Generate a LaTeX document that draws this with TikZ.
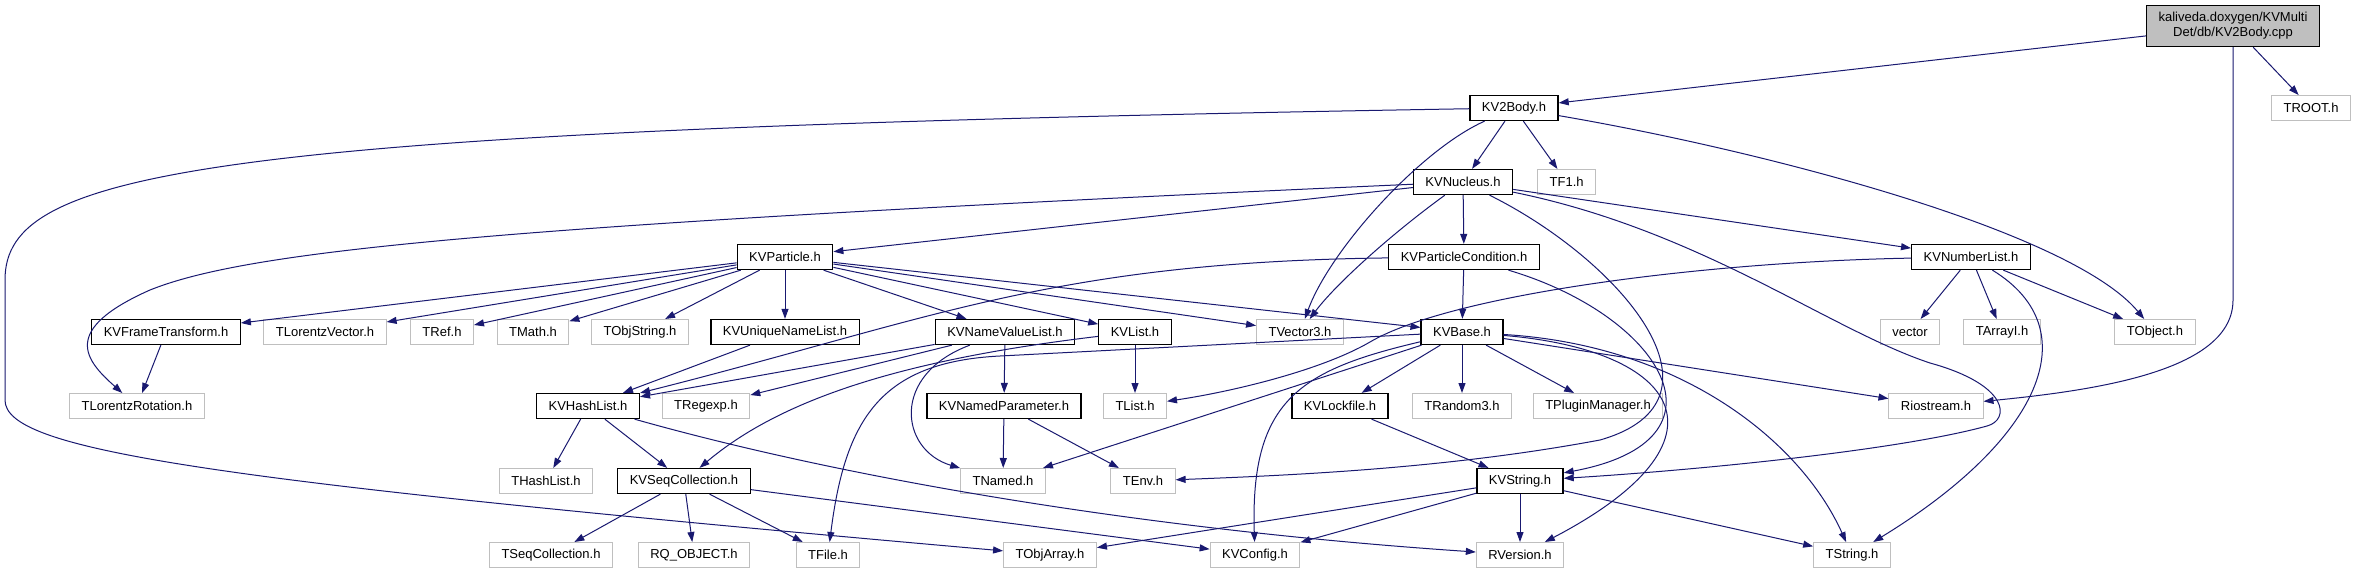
\documentclass[tikz,border=0pt]{standalone}
\usepackage{fontspec}
\setmainfont{Liberation Sans}
\usetikzlibrary{positioning, arrows.meta}

\definecolor{edgeblue}{HTML}{191970}
\definecolor{boxgray}{HTML}{BFBFBF}
\definecolor{srcgray}{HTML}{BFBFBF}

\begin{document}
\begin{tikzpicture}[
        x=1pt, y=1pt,
        box/.style={rectangle, draw, minimum height=25pt, inner xsep=12pt, inner ysep=2pt, font=\fontsize{13}{15}\selectfont},
        kvbox/.style={box, line width=1.3pt},
        extbox/.style={box, draw=boxgray, line width=1pt},
        srcbox/.style={box, fill=srcgray, line width=1.3pt, minimum height=41pt, align=center},
        arrow/.style={-{Stealth[length=10pt, width=7pt, inset=0pt]}, draw=edgeblue, line width=1pt}
    ]
        \fill[white] (0,0) rectangle (2355,-575);
        \useasboundingbox (0,0) rectangle (2355,-575);

        % Source file
        \node[srcbox] (cpp) at (2233,-26) {kaliveda.doxygen/KVMulti\\Det/db/KV2Body.cpp};

        % Direct includes
        \node[kvbox] (kvtwobody) at (1514,-108) {KV2Body.h};
        \node[extbox] (troot) at (2311,-108) {TROOT.h};

        \node[kvbox] (nucleus) at (1463,-182) {KVNucleus.h};
        \node[extbox, right=24pt of nucleus] (tfone) {TF1.h};

        \node[kvbox] (particle) at (785,-257) {KVParticle.h};
        \node[kvbox] (pcond) at (1464,-257) {KVParticleCondition.h};
        \node[kvbox] (numlist) at (1971,-257) {KVNumberList.h};

        % Fourth row
        \node[kvbox] (frametr) at (166,-332) {KVFrameTransform.h};
        \node[extbox] (lorvec) at (325,-332) {TLorentzVector.h};
        \node[extbox] (tref) at (442,-332) {TRef.h};
        \node[extbox] (tmath) at (533,-332) {TMath.h};
        \node[extbox] (objstr) at (640,-332) {TObjString.h};
        \node[kvbox] (uniqlist) at (785,-332) {KVUniqueNameList.h};
        \node[kvbox] (nvlist) at (1005,-332) {KVNameValueList.h};
        \node[kvbox] (kvlist) at (1135,-332) {KVList.h};
        \node[extbox] (tvec) at (1300,-332) {TVector3.h};
        \node[kvbox] (kvbase) at (1462,-332) {KVBase.h};
        \node[extbox] (vector) at (1910,-332) {vector};
        \node[extbox] (arrayi) at (2002,-332) {TArrayI.h};
        \node[extbox] (tobject) at (2155,-332) {TObject.h};

        % Fifth row
        \node[extbox] (lorrot) at (137,-406) {TLorentzRotation.h};
        \node[kvbox] (hashlist) at (588,-406) {KVHashList.h};
        \node[extbox] (regexp) at (706,-406) {TRegexp.h};
        \node[kvbox] (namedpar) at (1004,-406) {KVNamedParameter.h};
        \node[extbox] (tlist) at (1135,-406) {TList.h};
        \node[kvbox] (lockfile) at (1340,-406) {KVLockfile.h};
        \node[extbox] (random) at (1462,-406) {TRandom3.h};
        \node[extbox] (plugin) at (1598,-406) {TPluginManager.h};
        \node[extbox] (riostream) at (1936,-406) {Riostream.h};

        % Sixth row
        \node[extbox] (thashlist) at (546,-481) {THashList.h};
        \node[kvbox] (seqcoll) at (684,-481) {KVSeqCollection.h};
        \node[extbox] (tnamed) at (1003,-481) {TNamed.h};
        \node[extbox] (tenv) at (1143,-481) {TEnv.h};
        \node[kvbox] (kvstring) at (1520,-481) {KVString.h};

        % Bottom row
        \node[extbox] (tseqcoll) at (551,-555) {TSeqCollection.h};
        \node[extbox] (rqobject) at (694,-555) {RQ\_OBJECT.h};
        \node[extbox] (tfile) at (828,-555) {TFile.h};
        \node[extbox] (objarray) at (1050,-555) {TObjArray.h};
        \node[extbox] (kvconfig) at (1255,-555) {KVConfig.h};
        \node[extbox] (rversion) at (1520,-555) {RVersion.h};
        \node[extbox] (tstring) at (1852,-555) {TString.h};

        % Source file arrows
        \draw[arrow] (cpp) -- (kvtwobody);
        \draw[arrow] (cpp) -- (troot);
        \draw[arrow] (cpp.south) -- (2233,-300) .. controls (2233,-370) and (2100,-390) .. (riostream);

        % KV2Body.h
        \draw[arrow] (kvtwobody) -- (nucleus);
        \draw[arrow] (kvtwobody) -- (tfone);
        \draw[arrow] (kvtwobody) .. controls (1420,-150) and (1330,-250) .. (tvec);
        \draw[arrow] (kvtwobody) .. controls (1760,-150) and (2070,-230) .. (tobject);
        \draw[arrow] (kvtwobody) .. controls (200,-130) and (5,-170) .. (5,-280) -- (5,-400) .. controls (5,-450) and (200,-480) .. (objarray);

        % KVNucleus.h
        \draw[arrow] (nucleus) -- (particle);
        \draw[arrow] (nucleus) .. controls (500,-225) and (250,-250) .. (150,-290) .. controls (60,-330) and (85,-360) .. (lorrot);
        \draw[arrow] (nucleus) -- (pcond);
        \draw[arrow] (nucleus) .. controls (1390,-235) and (1335,-285) .. (tvec);
        \draw[arrow] (nucleus) -- (numlist);
        \draw[arrow] (nucleus) .. controls (1620,-260) and (1740,-400) .. (1600,-440) .. controls (1450,-468) and (1300,-475) .. (tenv);
        \draw[arrow] (nucleus) .. controls (1700,-230) and (1830,-330) .. (1930,-363) .. controls (2010,-385) and (2010,-420) .. (1987,-426) .. controls (1900,-450) and (1700,-470) .. (kvstring);

        % KVParticle.h
        \draw[arrow] (particle) -- (frametr);
        \draw[arrow] (particle) -- (lorvec);
        \draw[arrow] (particle) -- (tref);
        \draw[arrow] (particle) -- (tmath);
        \draw[arrow] (particle) -- (objstr);
        \draw[arrow] (particle) -- (uniqlist);
        \draw[arrow] (particle) -- (nvlist);
        \draw[arrow] (particle) -- (kvlist);
        \draw[arrow] (particle) -- (tvec);
        \draw[arrow] (particle) -- (kvbase);

        % KVParticleCondition.h
        \draw[arrow] (pcond) -- (kvbase);
        \draw[arrow] (pcond) .. controls (1050,-262) and (930,-320) .. (hashlist);
        \draw[arrow] (pcond) .. controls (1660,-315) and (1740,-440) .. (kvstring);

        % KVNumberList.h
        \draw[arrow] (numlist) -- (vector);
        \draw[arrow] (numlist) -- (arrayi);
        \draw[arrow] (numlist) -- (tobject);
        \draw[arrow] (numlist) .. controls (2090,-330) and (2040,-440) .. (tstring);
        \draw[arrow] (numlist) .. controls (1700,-262) and (1450,-295) .. (1370,-342) .. controls (1320,-371) and (1230,-392) .. (tlist);

        % Fourth row
        \draw[arrow] (frametr) -- (lorrot);
        \draw[arrow] (uniqlist) -- (hashlist);
        \draw[arrow] (nvlist) -- (hashlist);
        \draw[arrow] (nvlist) -- (regexp);
        \draw[arrow] (nvlist) -- (namedpar);
        \draw[arrow] (nvlist) .. controls (890,-375) and (900,-450) .. (tnamed);
        \draw[arrow] (kvlist) -- (tlist);
        \draw[arrow] (kvlist) .. controls (900,-360) and (780,-400) .. (seqcoll);

        % KVBase.h
        \draw[arrow] (kvbase) -- (1000,-356) .. controls (880,-362) and (845,-420) .. (tfile);
        \draw[arrow] (kvbase) -- (tnamed);
        \draw[arrow] (kvbase) .. controls (1300,-370) and (1250,-400) .. (kvconfig);
        \draw[arrow] (kvbase) -- (lockfile);
        \draw[arrow] (kvbase) -- (random);
        \draw[arrow] (kvbase) -- (plugin);
        \draw[arrow] (kvbase) -- (riostream);
        \draw[arrow] (kvbase) .. controls (1680,-345) and (1800,-440) .. (tstring);
        \draw[arrow] (kvbase) .. controls (1680,-350) and (1740,-440) .. (rversion);

        % Fifth row
        \draw[arrow] (hashlist) -- (thashlist);
        \draw[arrow] (hashlist) -- (seqcoll);
        \draw[arrow] (hashlist) .. controls (850,-480) and (1150,-530) .. (rversion);
        \draw[arrow] (namedpar) -- (tnamed);
        \draw[arrow] (namedpar) -- (tenv);
        \draw[arrow] (lockfile) -- (kvstring);

        % Sixth row
        \draw[arrow] (seqcoll) -- (tseqcoll);
        \draw[arrow] (seqcoll) -- (rqobject);
        \draw[arrow] (seqcoll) -- (tfile);
        \draw[arrow] (seqcoll) -- (kvconfig);
        \draw[arrow] (kvstring) -- (objarray);
        \draw[arrow] (kvstring) -- (kvconfig);
        \draw[arrow] (kvstring) -- (rversion);
        \draw[arrow] (kvstring) -- (tstring);
    \end{tikzpicture}
\end{document}
